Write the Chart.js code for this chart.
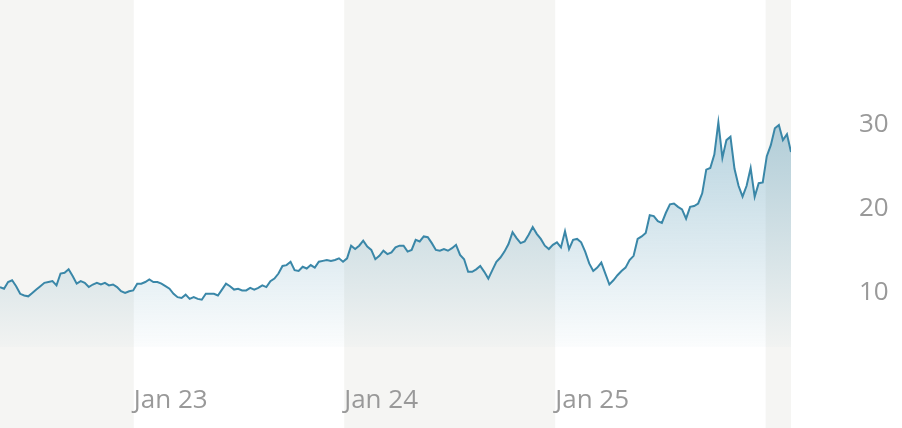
<!DOCTYPE html>
<html>
<head>
<meta charset="utf-8">
<script src="https://cdn.jsdelivr.net/npm/chart.js@4"></script>
<style>
  html, body { margin: 0; padding: 0; background: #ffffff; }
  #wrap { position: relative; width: 902px; height: 428px; }
</style>
</head>
<body>
<div id="wrap"><canvas id="priceChart"></canvas></div>
<script>
// ------------------- Data ------------------- //

// Weekly closes, first week starting 14 May 2022
const startDate = Date.UTC(2022, 4, 14);
const weekMs = 7 * 24 * 3600 * 1000;

const prices = [
  10.7, 10.5, 11.3, 11.5, 10.8, 9.9, 9.7, 9.6, 10.0, 10.4,
  10.8, 11.2, 11.3, 11.4, 10.9, 12.3, 12.4, 12.8, 12.0, 11.1,
  11.4, 11.2, 10.7, 11.0, 11.2, 11.0, 11.2, 10.9, 11.0, 10.7,
  10.2, 10.0, 10.2, 10.3, 11.1, 11.1, 11.3, 11.6, 11.3, 11.3,
  11.1, 10.8, 10.5, 9.9, 9.5, 9.4, 9.8, 9.3, 9.5, 9.3,
  9.2, 9.9, 9.9, 9.9, 9.7, 10.4, 11.1, 10.8, 10.4, 10.5,
  10.3, 10.3, 10.6, 10.4, 10.6, 10.9, 10.7, 11.4, 11.7, 12.3,
  13.2, 13.3, 13.7, 12.7, 12.6, 13.1, 12.9, 13.3, 13.0, 13.7,
  13.8, 13.9, 13.8, 13.9, 14.1, 13.7, 14.1, 15.6, 15.2, 15.6,
  16.2, 15.5, 15.1, 14.0, 14.4, 15.0, 14.6, 14.8, 15.4, 15.6,
  15.6, 14.9, 15.1, 16.3, 16.1, 16.7, 16.6, 15.9, 15.1, 15.0,
  15.2, 15.0, 15.3, 15.7, 14.5, 14.0, 12.5, 12.5, 12.8, 13.2,
  12.5, 11.7, 12.7, 13.7, 14.2, 14.9, 15.8, 17.2, 16.5, 15.9,
  16.1, 16.9, 17.8, 17.0, 16.4, 15.6, 15.2, 15.7, 16.0, 15.4,
  17.3, 15.2, 16.3, 16.4, 16.0, 14.9, 13.5, 12.6, 13.0, 13.6,
  12.3, 11.0, 11.5, 12.1, 12.6, 13.0, 13.9, 14.4, 16.4, 16.7,
  17.1, 19.2, 19.1, 18.5, 18.3, 19.5, 20.5, 20.6, 20.2, 19.9,
  18.8, 20.2, 20.3, 20.6, 21.8, 24.6, 24.8, 26.4, 30.2, 26.0,
  28.1, 28.5, 24.7, 22.7, 21.4, 22.7, 24.8, 21.4, 23.0, 23.1,
  26.2, 27.5, 29.5, 29.9, 28.1, 28.8, 26.7
];

// Year marks along the bottom
const yearStarts = [Date.UTC(2023, 0, 1), Date.UTC(2024, 0, 1), Date.UTC(2025, 0, 1)];
const yearLabels = ["Jan 23", "Jan 24", "Jan 25"];
const shadeUntil = Date.UTC(2023, 0, 1);
const shadeBands = [[Date.UTC(2024, 0, 1), Date.UTC(2025, 0, 1)], [Date.UTC(2026, 0, 1), null]];

const yTicks = [10, 20, 30];
const yMin = 3.6;
const yMax = 44.7;

// ------------------- Helpers ------------------- //

function buildPoints() {
  return prices.map((p, i) => ({ x: startDate + i * weekMs, y: p }));
}

// Gray year bands, drawn full height behind the line
const bandPlugin = {
  id: "yearBands",
  beforeDraw(chart) {
    const { ctx, scales, chartArea } = chart;
    const x = scales.x;
    ctx.save();
    ctx.fillStyle = "#f5f5f3";
    const bands = [[x.min, shadeUntil]].concat(shadeBands);
    bands.forEach(([a, b]) => {
      const left = x.getPixelForValue(a);
      const right = b === null ? chartArea.right : x.getPixelForValue(b);
      ctx.fillRect(left, 0, right - left, chart.height);
    });
    ctx.restore();
  },
};

function fillGradient(context) {
  const area = context.chart.chartArea;
  if (!area) return "rgba(58,135,168,0.2)";
  const g = context.chart.ctx.createLinearGradient(0, area.top + 100, 0, area.bottom);
  g.addColorStop(0, "rgba(58,135,168,0.40)");
  g.addColorStop(1, "rgba(58,135,168,0.02)");
  return g;
}

// ------------------- Chart ------------------- //

const points = buildPoints();

new Chart(document.getElementById("priceChart"), {
  type: "line",
  data: {
    datasets: [
      {
        data: points,
        borderColor: "#3a87a8",
        borderWidth: 2,
        pointRadius: 0,
        tension: 0,
        fill: "start",
        backgroundColor: fillGradient,
      },
    ],
  },
  options: {
    responsive: true,
    maintainAspectRatio: false,
    animation: false,
    layout: { padding: 0 },
    plugins: { legend: { display: false }, tooltip: { enabled: false } },
    scales: {
      x: {
        type: "linear",
        min: startDate,
        max: startDate + (prices.length - 1) * weekMs,
        grid: { display: false, drawTicks: false },
        border: { display: false },
        afterBuildTicks: (axis) => {
          axis.ticks = yearStarts.map((v) => ({ value: v }));
        },
        afterFit: (axis) => {
          axis.height = 81;
          axis.paddingLeft = 0;
          axis.paddingRight = 0;
        },
        ticks: {
          align: "start",
          padding: 38,
          maxRotation: 0,
          color: "#999999",
          font: { family: "Open Sans", size: 26 },
          callback: (v) => yearLabels[yearStarts.indexOf(v)] || "",
        },
      },
      y: {
        position: "right",
        min: yMin,
        max: yMax,
        grid: { display: false, drawTicks: false },
        border: { display: false },
        afterBuildTicks: (axis) => {
          axis.ticks = yTicks.map((v) => ({ value: v }));
        },
        // tick padding would otherwise push the plot down from the top
        afterFit: (axis) => {
          axis.width = 111;
          axis.paddingTop = 0;
          axis.paddingBottom = 0;
        },
        ticks: {
          padding: 68,
          color: "#999999",
          font: { family: "Open Sans", size: 26 },
        },
      },
    },
  },
  plugins: [bandPlugin],
});
</script>
</body>
</html>
